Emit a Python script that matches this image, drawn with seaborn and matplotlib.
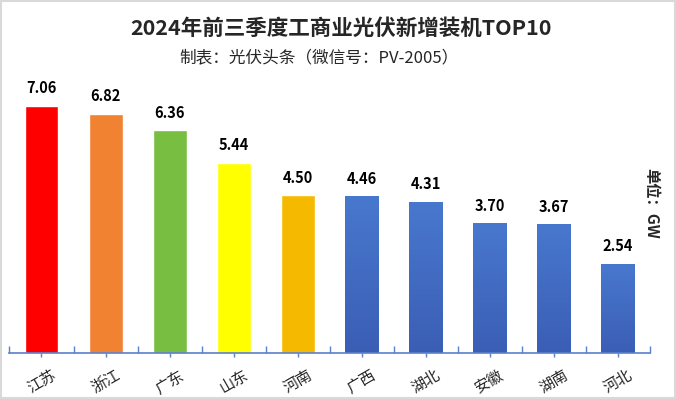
import numpy as np
import matplotlib
matplotlib.use('Agg')
import matplotlib.pyplot as plt
import seaborn as sns
from matplotlib.patches import Rectangle

provinces = ['江苏', '浙江', '广东', '山东', '河南', '广西', '湖北', '安徽', '湖南', '河北']
capacity = [7.06, 6.82, 6.36, 5.44, 4.50, 4.46, 4.31, 3.70, 3.67, 2.54]
bar_colors = ['#FF0000', '#F08232', '#78BE41', '#FFFF00', '#F5BA00',
              '#4472C4', '#4472C4', '#4472C4', '#4472C4', '#4472C4']

sns.set_style('white')
plt.rcParams['font.family'] = ['Noto Sans CJK SC', 'DejaVu Sans']

fig = plt.figure(figsize=(6.76, 3.99), dpi=100)
ax = fig.add_axes([0.014, 0.1153, 0.9475, 0.702])

sns.barplot(x=provinces, y=capacity, hue=provinces, palette=bar_colors,
            legend=False, width=0.53, saturation=1, ax=ax)

# blue bars get a soft vertical gradient like the original
grad = np.linspace(0, 1, 100).reshape(-1, 1)
cmap = matplotlib.colors.LinearSegmentedColormap.from_list('b', ['#3B5EB5', '#4878CE'])
for i, p in enumerate(ax.patches):
    if i >= 5:
        x0, w, h = p.get_x(), p.get_width(), p.get_height()
        ax.imshow(grad, extent=[x0, x0 + w, 0, h], origin='lower', cmap=cmap,
                  aspect='auto', zorder=p.get_zorder() + 0.1)

for i, v in enumerate(capacity):
    ax.text(i, v + 0.28, f'{v:.2f}', ha='center', va='bottom',
            fontsize=10.5, fontweight='bold', color='black')

ax.set_xlim(-0.5, 9.5)
ax.set_ylim(0, 8)
ax.set_yticks([])
ax.set_xlabel('')
ax.set_ylabel('')
for s in ['top', 'right', 'left']:
    ax.spines[s].set_visible(False)
ax.spines['bottom'].set_color('#5B7FC9')
ax.spines['bottom'].set_linewidth(1.2)

ax.set_xticks(range(len(provinces)))
ax.set_xticklabels(provinces, rotation=30, fontsize=11)
ax.tick_params(axis='x', which='major', direction='out', length=3,
               color='#5B7FC9', width=1, pad=7, bottom=True)
ax.set_xticks(np.arange(-0.5, 10, 1), minor=True)
ax.tick_params(axis='x', which='minor', direction='in', length=5,
               color='#5B7FC9', width=1, bottom=True)

fig.text(0.505, 0.93, '2024年前三季度工商业光伏新增装机TOP10', ha='center', va='center',
         fontsize=15.5, fontweight='bold')
fig.text(0.472, 0.853, '制表：光伏头条（微信号：PV-2005）', ha='center', va='center',
         fontsize=12)
fig.text(0.964, 0.49, '单位：GW', ha='center', va='center', rotation=270,
         fontsize=11, fontweight='bold')

fig.patches.append(Rectangle((0.001, 0.002), 0.997, 0.995, transform=fig.transFigure,
                             fill=False, edgecolor='#D9D9D9', linewidth=1.5))

fig.savefig('out.png', dpi=100)
